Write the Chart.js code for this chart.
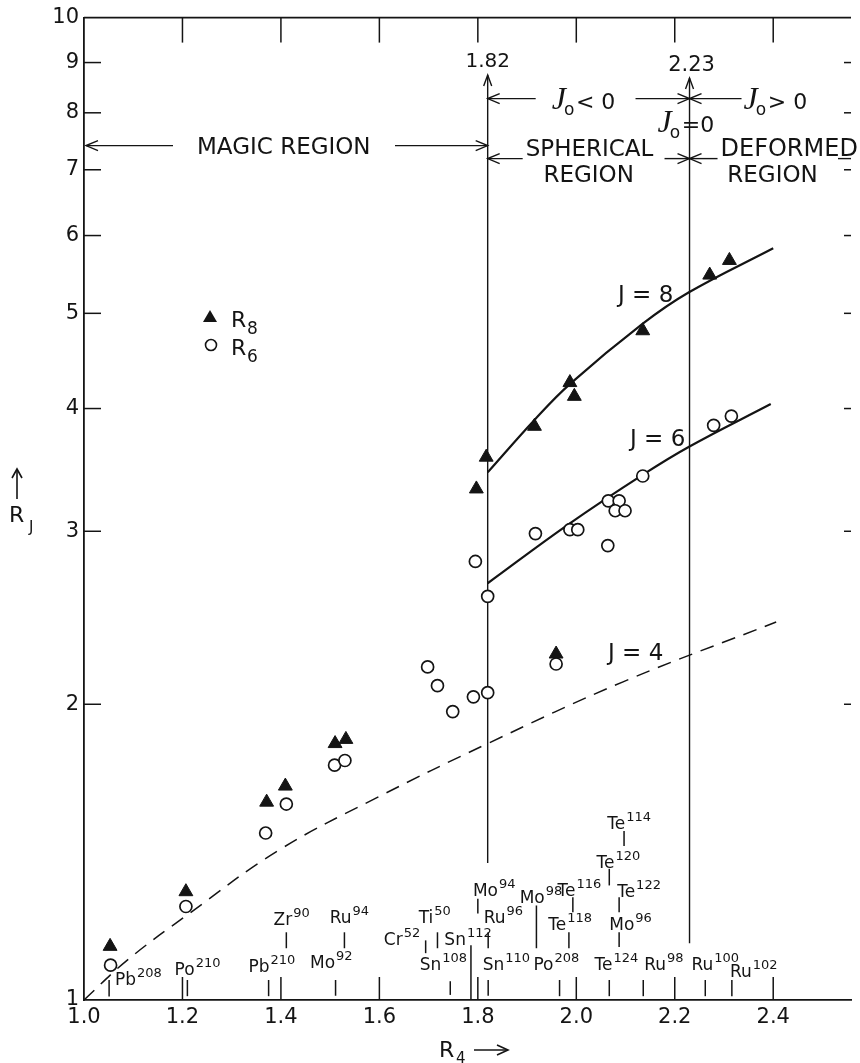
<!DOCTYPE html>
<html>
<head>
<meta charset="utf-8">
<script src="https://cdn.jsdelivr.net/npm/chart.js@4.4.1/dist/chart.umd.min.js"></script>
<style>
  html, body { margin: 0; padding: 0; background: #fff; }
  #wrap { width: 860px; height: 1063px; }
</style>
</head>
<body>
<div id="wrap"><canvas id="chart" width="860" height="1063"></canvas></div>
<script>
// R_J against R_4, log scale in R_J

const xTicks = [1.0, 1.2, 1.4, 1.6, 1.8, 2.0, 2.2, 2.4]
const yTicks = [1, 2, 3, 4, 5, 6, 7, 8, 9, 10]

// R8 (filled triangles)
const r8X = [1.053, 1.207, 1.371, 1.409, 1.510, 1.532, 1.797, 1.817, 1.915, 1.987, 1.996, 2.135, 2.271, 2.311, 1.959]
const r8Y = [1.134, 1.289, 1.590, 1.651, 1.824, 1.842, 3.313, 3.569, 3.837, 4.251, 4.116, 4.800, 5.469, 5.660, 2.250]

// R6 (open circles)
const r6X = [1.054, 1.207, 1.369, 1.411, 1.509, 1.530, 1.698, 1.718, 1.749, 1.791, 1.820, 1.820, 1.795, 1.917, 1.987, 2.003, 2.064, 2.065, 2.087, 2.079, 2.099, 2.135, 2.279, 2.315, 1.959]
const r6Y = [1.085, 1.245, 1.479, 1.583, 1.734, 1.753, 2.183, 2.089, 1.966, 2.035, 2.055, 2.576, 2.795, 2.984, 3.011, 3.011, 2.901, 3.222, 3.222, 3.148, 3.148, 3.415, 3.846, 3.930, 2.198]

// theory curves
const j8X = [1.82, 1.915, 1.988, 2.135, 2.228, 2.40]
const j8Y = [3.444, 3.894, 4.240, 4.880, 5.250, 5.824]
const j6X = [1.82, 1.984, 2.137, 2.230, 2.395]
const j6Y = [2.656, 3.049, 3.430, 3.660, 4.043]
const j4X = [1.0, 1.088, 1.214, 1.394, 1.593, 1.82, 2.095, 2.406]
const j4Y = [1.0, 1.098, 1.225, 1.419, 1.605, 1.824, 2.108, 2.425]

// region boundaries (R4) and extent of their lines (R_J)
const boundaries = [1.82, 2.23]
const boundaryTop = [8.74, 8.68]
const boundaryBottom = [1.379, 1.142]

// nuclides marked along the R4 axis
const nucSym  = ["Pb", "Po", "Pb", "Mo", "Sn", "Sn", "Po", "Te", "Ru", "Ru", "Ru", "Zr", "Ru", "Ti", "Cr", "Sn", "Mo", "Ru", "Mo", "Te", "Te", "Te", "Te", "Te", "Mo"]
const nucMass = ["208", "210", "210", "92", "108", "110", "208", "124", "98", "100", "102", "90", "94", "50", "52", "112", "94", "96", "98", "116", "118", "114", "120", "122", "96"]
const nucR4   = [1.051, 1.210, 1.375, 1.511, 1.744, 1.821, 1.966, 2.067, 2.136, 2.262, 2.316, 1.411, 1.529, 1.718, 1.694, 1.786, 1.800, 1.821, 1.919, 1.993, 1.985, 2.097, 2.067, 2.087, 2.087]
// label placement, in axis units
const nucLabelX = [1.063, 1.184, 1.334, 1.459, 1.682, 1.810, 1.913, 2.037, 2.138, 2.234, 2.312, 1.385, 1.499, 1.680, 1.609, 1.732, 1.790, 1.812, 1.885, 1.962, 1.943, 2.063, 2.041, 2.083, 2.067]
const nucLabelY = [1.036, 1.060, 1.067, 1.078, 1.072, 1.072, 1.072, 1.072, 1.072, 1.072, 1.055, 1.191, 1.197, 1.197, 1.137, 1.137, 1.277, 1.197, 1.254, 1.277, 1.177, 1.493, 1.363, 1.274, 1.177]
const nucTickTop = [1.048, 1.048, 1.048, 1.048, 1.045, 1.048, 1.048, 1.048, 1.048, 1.048, 1.048, 1.172, 1.172, 1.172, 1.150, 1.137, 1.268, 1.172, 1.248, 1.272, 1.172, 1.486, 1.360, 1.272, 1.172]
const nucTickBot = [1.008, 1.009, 1.009, 1.010, 1.012, 1.010, 1.009, 1.009, 1.009, 1.009, 1.009, 1.129, 1.129, 1.129, 1.116, 1.0, 1.225, 1.129, 1.129, 1.228, 1.129, 1.435, 1.308, 1.228, 1.132]

const INK = "#141414"
const FONT = "'DejaVu Sans', sans-serif"

const pts = (xs, ys) => xs.map((x, i) => ({ x, y: ys[i] }))

function text(ctx, s, x, y, size, align = "left", family = FONT) {
  ctx.font = `${size}px ${family}`
  ctx.textAlign = align
  ctx.textBaseline = "alphabetic"
  ctx.fillText(s, x, y)
}

function line(ctx, x1, y1, x2, y2) {
  ctx.beginPath()
  ctx.moveTo(x1, y1)
  ctx.lineTo(x2, y2)
  ctx.stroke()
}

function head(ctx, x, y, dir, len = 12, half = 5) {
  ctx.beginPath()
  if (dir === "up") {
    ctx.moveTo(x - half, y + len); ctx.lineTo(x, y); ctx.lineTo(x + half, y + len)
  } else {
    const d = dir === "left" ? 1 : -1
    ctx.moveTo(x + d * len, y - half); ctx.lineTo(x, y); ctx.lineTo(x + d * len, y + half)
  }
  ctx.stroke()
}

// script J with subscript 0, then the rest
function jNaught(ctx, x, y, tail) {
  ctx.textAlign = "left"
  ctx.textBaseline = "alphabetic"
  ctx.font = "italic 32px 'Liberation Serif'"
  ctx.fillText("J", x, y)
  const w = ctx.measureText("J").width
  ctx.font = `17px ${FONT}`
  ctx.fillText("o", x + w - 2, y + 6)
  ctx.font = `22px ${FONT}`
  ctx.fillText(tail, x + w + 10, y)
}

function isotope(ctx, sym, mass, x, y) {
  ctx.textAlign = "left"
  ctx.textBaseline = "alphabetic"
  ctx.font = `17px ${FONT}`
  ctx.fillText(sym, x, y)
  const w = ctx.measureText(sym).width
  ctx.font = `13px ${FONT}`
  ctx.fillText(mass, x + w + 1, y - 8)
}

const annotate = {
  id: "annotate",
  beforeDatasetsDraw(chart) {
    const { ctx, scales: { x, y } } = chart
    ctx.save()
    ctx.strokeStyle = INK
    ctx.lineWidth = 1.4
    boundaries.forEach((b, i) => {
      const bx = x.getPixelForValue(b)
      line(ctx, bx, y.getPixelForValue(boundaryTop[i]), bx, y.getPixelForValue(boundaryBottom[i]))
      head(ctx, bx, y.getPixelForValue(boundaryTop[i]), "up", 11, 4)
    })
    ctx.restore()
  },
  afterDraw(chart) {
    const { ctx, chartArea: a, scales: { x, y } } = chart
    ctx.save()
    ctx.strokeStyle = INK
    ctx.fillStyle = INK

    // frame: top edge and inward ticks on all sides
    ctx.lineWidth = 1.8
    line(ctx, a.left, a.top, a.right, a.top)
    ctx.lineWidth = 1.5
    xTicks.slice(1).forEach((v) => {
      const px = x.getPixelForValue(v)
      line(ctx, px, a.bottom, px, a.bottom - 23)
      line(ctx, px, a.top, px, a.top + 25)
    })
    yTicks.slice(1, -1).forEach((v) => {
      const py = y.getPixelForValue(v)
      line(ctx, a.left, py, a.left + 17, py)
      line(ctx, a.right - 7, py, a.right, py)
    })

    // boundary values
    const b1 = x.getPixelForValue(boundaries[0])
    const b2 = x.getPixelForValue(boundaries[1])
    text(ctx, "1.82", b1, a.top + 49, 20, "center")
    text(ctx, "2.23", b2 + 2, a.top + 53, 21, "center")

    // region arrows and labels
    ctx.lineWidth = 1.4
    const rJ = a.top + 81, rMagic = a.top + 128, rSph = a.top + 141
    head(ctx, b1, rJ, "left"); line(ctx, b1, rJ, b1 + 48, rJ)
    line(ctx, b2 - 54, rJ, b2, rJ); head(ctx, b2, rJ, "right")
    head(ctx, b2, rJ, "left"); line(ctx, b2, rJ, b2 + 52, rJ)
    jNaught(ctx, b1 + 64, rJ + 10, "< 0")
    jNaught(ctx, b2 + 54, rJ + 10, "> 0")
    jNaught(ctx, b2 - 32, rJ + 33, "=0")

    head(ctx, a.left + 2, rMagic, "left"); line(ctx, a.left + 2, rMagic, 173, rMagic)
    line(ctx, 395, rMagic, b1, rMagic); head(ctx, b1, rMagic, "right")
    text(ctx, "MAGIC REGION", 197, rMagic + 8, 23)

    head(ctx, b1, rSph, "left"); line(ctx, b1, rSph, b1 + 35, rSph)
    line(ctx, b2 - 25, rSph, b2, rSph); head(ctx, b2, rSph, "right")
    head(ctx, b2, rSph, "left"); line(ctx, b2, rSph, b2 + 28, rSph)
    line(ctx, 838, rSph, a.right, rSph)
    text(ctx, "SPHERICAL", b1 + 38, rSph - 3, 23)
    text(ctx, "REGION", b1 + 101, rSph + 23, 23, "center")
    text(ctx, "DEFORMED", b2 + 31, rSph - 3, 24)
    text(ctx, "REGION", b2 + 83, rSph + 23, 23, "center")

    // curve labels
    text(ctx, "J = 8", 618, 302, 23)
    text(ctx, "J = 6", 630, 446, 23)
    text(ctx, "J = 4", 608, 660, 23)

    // key
    ctx.beginPath()
    ctx.moveTo(210, 310); ctx.lineTo(217, 322); ctx.lineTo(203, 322); ctx.closePath(); ctx.fill()
    ctx.lineWidth = 1.6
    ctx.beginPath(); ctx.arc(211, 345, 5.5, 0, Math.PI * 2); ctx.stroke()
    text(ctx, "R", 231, 327, 22); text(ctx, "8", 247, 334, 17)
    text(ctx, "R", 231, 355, 22); text(ctx, "6", 247, 362, 17)

    // axis titles
    ctx.lineWidth = 1.6
    line(ctx, 17, 470, 17, 499); head(ctx, 17, 469, "up", 9, 5)
    text(ctx, "R", 9, 522, 22); text(ctx, "J", 29, 532, 15)
    text(ctx, "R", 439, 1057, 22); text(ctx, "4", 456, 1063, 15)
    line(ctx, 474, 1050, 507, 1050); head(ctx, 508, 1050, "right", 11, 5)

    // nuclide markers along the R4 axis
    ctx.lineWidth = 1.5
    nucSym.forEach((s, i) => {
      const mx = x.getPixelForValue(nucR4[i])
      line(ctx, mx, y.getPixelForValue(nucTickTop[i]), mx, y.getPixelForValue(nucTickBot[i]))
      isotope(ctx, s, nucMass[i], x.getPixelForValue(nucLabelX[i]), y.getPixelForValue(nucLabelY[i]))
    })
    ctx.restore()
  }
}

new Chart(document.getElementById("chart"), {
  type: "scatter",
  data: {
    datasets: [
      { label: "R8", data: pts(r8X, r8Y), pointStyle: "triangle", pointRadius: 8, backgroundColor: INK, borderColor: INK, borderWidth: 1 },
      { label: "R6", data: pts(r6X, r6Y), pointStyle: "circle", pointRadius: 6, backgroundColor: "#fff", borderColor: INK, borderWidth: 1.7 },
      { label: "J = 8", data: pts(j8X, j8Y), showLine: true, pointRadius: 0, borderColor: INK, borderWidth: 2.2, tension: 0.4 },
      { label: "J = 6", data: pts(j6X, j6Y), showLine: true, pointRadius: 0, borderColor: INK, borderWidth: 2.2, tension: 0.4 },
      { label: "J = 4", data: pts(j4X, j4Y), showLine: true, pointRadius: 0, borderColor: INK, borderWidth: 1.5, borderDash: [14, 9], tension: 0.4 }
    ]
  },
  options: {
    responsive: false,
    animation: false,
    devicePixelRatio: 1,
    layout: { padding: { top: 12, right: 0, left: 0, bottom: 0 } },
    plugins: { legend: { display: false }, tooltip: { enabled: false } },
    scales: {
      x: {
        type: "linear", min: 1.0, max: 2.558,
        grid: { display: false, drawTicks: false },
        border: { display: true, color: INK, width: 1.8 },
        afterBuildTicks: (s) => { s.ticks = xTicks.map((v) => ({ value: v })) },
        afterFit: (s) => { s.height = 63 },
        ticks: { color: INK, padding: 5, autoSkip: false, maxRotation: 0, font: { family: FONT, size: 21 }, callback: (v) => Number(v).toFixed(1) }
      },
      y: {
        type: "logarithmic", min: 1, max: 10,
        grid: { display: false, drawTicks: false },
        border: { display: true, color: INK, width: 1.8 },
        afterBuildTicks: (s) => { s.ticks = yTicks.map((v) => ({ value: v })) },
        afterFit: (s) => { s.width = 84 },
        ticks: { color: INK, padding: 5, autoSkip: false, font: { family: FONT, size: 21 }, callback: (v) => String(v) }
      }
    }
  },
  plugins: [annotate]
})
</script>
</body>
</html>
